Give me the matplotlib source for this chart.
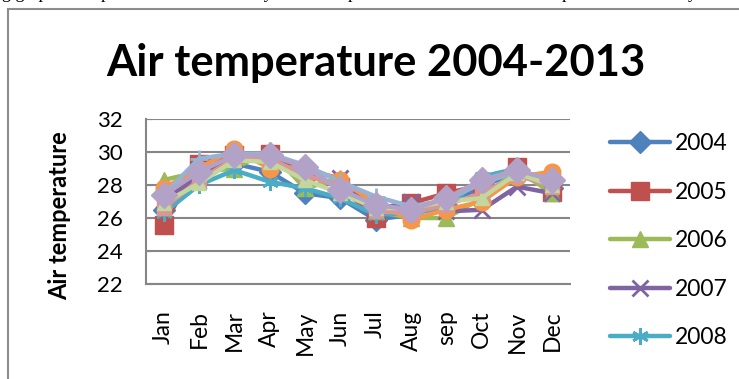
import matplotlib
matplotlib.use("Agg")
import matplotlib.pyplot as plt
from matplotlib.lines import Line2D

plt.rcParams['font.family'] = ['Lato', 'DejaVu Sans']

months = ["Jan", "Feb", "Mar", "Apr", "May", "Jun", "Jul", "Aug", "sep", "Oct", "Nov", "Dec"]
years = ["2004", "2005", "2006", "2007", "2008", "2009", "2010", "2011", "2012", "2013"]

t2004 = [26.5, 28.8, 29.3, 28.8, 27.5, 27.2, 25.9, 26.2, 26.8, 27.9, 28.8, 27.8]
t2005 = [25.6, 29.3, 29.8, 29.9, 28.8, 27.9, 26.0, 26.9, 27.5, 28.0, 29.1, 27.6]
t2006 = [28.3, 28.8, 29.0, 30.1, 27.8, 28.4, 26.4, 26.0, 26.0, 27.2, 28.9, 27.5]
t2007 = [27.1, 28.5, 29.6, 29.7, 28.9, 28.4, 26.5, 27.0, 26.4, 26.5, 27.9, 27.5]
t2008 = [26.3, 28.0, 28.9, 28.2, 27.8, 27.2, 26.2, 26.3, 26.6, 28.5, 29.0, 28.0]
t2009 = [27.8, 29.0, 30.2, 29.0, 29.1, 28.3, 26.9, 25.9, 26.5, 27.0, 28.5, 28.8]
t2010 = [27.4, 29.6, 29.9, 29.9, 29.2, 28.2, 27.3, 26.7, 27.1, 28.1, 28.8, 28.4]
t2011 = [26.6, 28.3, 29.6, 29.6, 28.6, 27.9, 26.4, 26.3, 26.8, 27.5, 28.6, 27.9]
t2012 = [26.9, 28.1, 29.5, 29.4, 28.3, 27.5, 26.6, 26.6, 27.0, 27.2, 28.7, 28.0]
t2013 = [27.4, 28.8, 29.8, 29.8, 29.1, 27.7, 26.8, 26.5, 27.2, 28.3, 28.9, 28.3]
series = [t2004, t2005, t2006, t2007, t2008, t2009, t2010, t2011, t2012, t2013]

colors = ["#4F81BD", "#C0504D", "#9BBB59", "#8064A2", "#4BACC6",
          "#F79646", "#95B3D7", "#D99694", "#C3D69B", "#B3A2C7"]
markers = ["D", "s", "^", "x", (6, 2, 0), "o", "+", "s", "^", "D"]
msizes = [11, 13, 12, 11, 12, 12, 13, 10, 10, 13]

W, H = 739, 379
fig = plt.figure(figsize=(W / 100, H / 100), dpi=100)
fig.patch.set_facecolor("white")

# document text clipped at top
fig.text(-0.01, 1 + 1.5 / H, "ng graphical representation of monthly mean temperature of the st"
         "ation for the period under study the",
         family="Liberation Serif", fontsize=13, va="baseline", ha="left")

# chart border
fig.add_artist(Line2D([8 / W, 8 / W], [0, 1 - 8.5 / H], transform=fig.transFigure,
                      color="#8c8c8c", lw=1.5))
fig.add_artist(Line2D([8 / W, 1], [1 - 8.5 / H, 1 - 8.5 / H], transform=fig.transFigure,
                      color="#8c8c8c", lw=1.5))

left, right, top, bottom = 146, 570, 119, 284
ax = fig.add_axes([left / W, 1 - bottom / H, (right - left) / W, (bottom - top) / H])

x = list(range(len(months)))
handles = []
for i, (y, c, m, ms) in enumerate(zip(series, colors, markers, msizes)):
    mew = 2.0 if m in ("x", "+") or isinstance(m, tuple) else 1.0
    h, = ax.plot(x, y, color=c, lw=3.2, marker=m, markersize=ms,
                 markerfacecolor=c, markeredgecolor=c, markeredgewidth=mew,
                 solid_joinstyle="round", solid_capstyle="round",
                 label=years[i], zorder=3 + i)
    handles.append(h)

ax.set_xlim(-0.5, len(months) - 0.5)
ax.set_ylim(22, 32)
ax.set_yticks([22, 24, 26, 28, 30, 32])
ax.set_xticks(x)
ax.set_xticklabels(months, rotation=90, fontsize=16.5)
ax.tick_params(axis="y", labelsize=16, length=4, color="#868686", direction="in", pad=17)
ax.tick_params(axis="x", length=0, pad=19)
ax.grid(axis="y", color="#868686", lw=1.5)
ax.set_axisbelow(True)
for s in ("top", "right"):
    ax.spines[s].set_visible(False)
for s in ("left", "bottom"):
    ax.spines[s].set_color("#868686")
    ax.spines[s].set_linewidth(1.5)

fig.text(60 / W, 1 - 216 / H, "Air temperature", rotation=90, fontsize=17,
         fontweight="bold", ha="center", va="center")
fig.text(376 / W, 1 - 63 / H, "Air temperature 2004-2013", fontsize=31.3,
         fontweight="bold", ha="center", va="center")

leg = fig.legend(handles[:5], years[:5], loc="upper left",
                 bbox_to_anchor=(599 / W, 1 - 122 / H), frameon=False,
                 fontsize=16.5, handlelength=2.6, handletextpad=0.2,
                 labelspacing=1.2, borderpad=0)

fig.savefig("out.png", dpi=100)
